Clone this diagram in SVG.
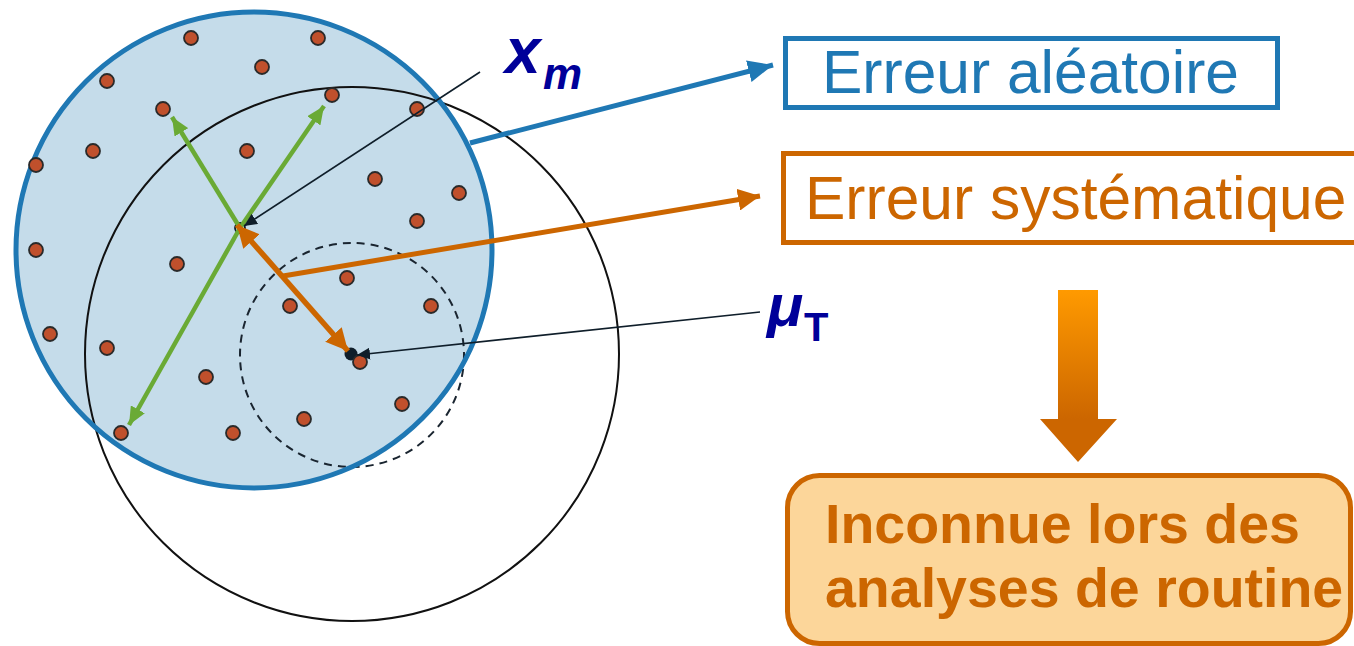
<svg xmlns="http://www.w3.org/2000/svg" width="1354" height="646" viewBox="0 0 1354 646">
<style>
.dot{fill:#c0502c;stroke:#2a2a2a;stroke-width:1.8}
.lbl{font-family:"Liberation Sans",Arial,sans-serif}
.sym{font-family:"Liberation Sans",Arial,sans-serif;font-weight:bold;font-style:italic;fill:#000099}
.green{stroke:#6aaa35;stroke-width:4.5;fill:none}
.thin{stroke:#0f1e2a;stroke-width:1.6;fill:none}
</style>
<defs>
<marker id="ahGreen" markerUnits="userSpaceOnUse" markerWidth="20" markerHeight="16" refX="18" refY="8" orient="auto"><path d="M0,0 L18,8 L0,16 Z" fill="#6aaa35"/></marker>
<marker id="ahOrange" markerUnits="userSpaceOnUse" markerWidth="24" markerHeight="22" refX="22" refY="11" orient="auto-start-reverse"><path d="M0,0 L22,11 L0,22 Z" fill="#cc6600"/></marker>
<marker id="ahBlue" markerUnits="userSpaceOnUse" markerWidth="26" markerHeight="22" refX="25" refY="11" orient="auto"><path d="M0,0 L25,11 L0,22 Z" fill="#1f78b4"/></marker>
<marker id="ahBlack" markerUnits="userSpaceOnUse" markerWidth="14" markerHeight="12" refX="13" refY="6" orient="auto"><path d="M0,0 L13,6 L0,12 Z" fill="#0f1e2a"/></marker>
<linearGradient id="gradDown" gradientUnits="userSpaceOnUse" x1="0" y1="290" x2="0" y2="462">
<stop offset="0" stop-color="#ff9a00"/>
<stop offset="0.75" stop-color="#cc6600"/>
<stop offset="1" stop-color="#cc6600"/>
</linearGradient>
</defs>

<g id="target">
<circle id="blue-fill" cx="254" cy="250" r="238" fill="#c5dcea"/>
<circle id="big-circle" cx="352" cy="354" r="267" fill="none" stroke="#111" stroke-width="2"/>
<circle id="dashed-circle" cx="352" cy="355" r="112" fill="none" stroke="#1a2530" stroke-width="2" stroke-dasharray="8 6"/>
<circle id="blue-ring" cx="254" cy="250" r="238" fill="none" stroke="#1f78b4" stroke-width="5"/>
</g>

<g id="points">
<circle class="dot" cx="191" cy="38" r="7"/>
<circle class="dot" cx="318" cy="38" r="7"/>
<circle class="dot" cx="262" cy="67" r="7"/>
<circle class="dot" cx="107" cy="81" r="7"/>
<circle class="dot" cx="332" cy="95" r="7"/>
<circle class="dot" cx="163" cy="109" r="7"/>
<circle class="dot" cx="417" cy="109" r="7"/>
<circle class="dot" cx="93" cy="151" r="7"/>
<circle class="dot" cx="247" cy="151" r="7"/>
<circle class="dot" cx="36" cy="165" r="7"/>
<circle class="dot" cx="375" cy="179" r="7"/>
<circle class="dot" cx="459" cy="193" r="7"/>
<circle class="dot" cx="417" cy="221" r="7"/>
<circle class="dot" cx="36" cy="250" r="7"/>
<circle class="dot" cx="177" cy="264" r="7"/>
<circle class="dot" cx="347" cy="278" r="7"/>
<circle class="dot" cx="290" cy="306" r="7"/>
<circle class="dot" cx="431" cy="306" r="7"/>
<circle class="dot" cx="50" cy="334" r="7"/>
<circle class="dot" cx="107" cy="348" r="7"/>
<circle class="dot" cx="206" cy="377" r="7"/>
<circle class="dot" cx="402" cy="404" r="7"/>
<circle class="dot" cx="304" cy="419" r="7"/>
<circle class="dot" cx="121" cy="433" r="7"/>
<circle class="dot" cx="233" cy="433" r="7"/>
<circle id="mu-dot" cx="351" cy="354" r="6.5" fill="#0f1e2a"/>
<circle class="dot" cx="360" cy="362" r="7"/>
<circle id="xm-point" cx="240" cy="228" r="5" fill="none" stroke="#0f1e2a" stroke-width="1.8"/>
</g>

<g id="connectors">
<line class="green" x1="240" y1="228" x2="172" y2="117" marker-end="url(#ahGreen)"/>
<line class="green" x1="240" y1="228" x2="324" y2="106" marker-end="url(#ahGreen)"/>
<line class="green" x1="240" y1="228" x2="129" y2="425" marker-end="url(#ahGreen)"/>
<line x1="237" y1="225" x2="348" y2="351" stroke="#cc6600" stroke-width="5.5" marker-start="url(#ahOrange)" marker-end="url(#ahOrange)"/>
<line class="thin" x1="480" y1="72" x2="244" y2="226" marker-end="url(#ahBlack)"/>
<line class="thin" x1="760" y1="312" x2="357" y2="355" marker-end="url(#ahBlack)"/>
<line x1="470" y1="143" x2="773" y2="65" stroke="#1f78b4" stroke-width="5" marker-end="url(#ahBlue)"/>
<line x1="283" y1="276" x2="760" y2="196" stroke="#cc6600" stroke-width="5" marker-end="url(#ahOrange)"/>
<path id="down-arrow" d="M1058,290 H1098 V419 H1117 L1078,462 L1040,419 H1058 Z" fill="url(#gradDown)"/>
</g>

<g id="label-xm">
<text class="sym" x="505" y="73" font-size="64">x</text>
<text class="sym" x="543" y="89" font-size="44">m</text>
</g>

<g id="label-mu">
<text class="sym" x="767" y="326" font-size="60">μ</text>
<text class="lbl" x="804" y="341" font-size="40" font-weight="bold" fill="#000099">T</text>
</g>

<g id="box-aleatoire">
<rect x="785.5" y="38.5" width="492" height="69" fill="#fff" stroke="#1f78b4" stroke-width="5"/>
<text class="lbl" x="822" y="93" font-size="60.5" fill="#1f78b4">Erreur aléatoire</text>
</g>

<g id="box-systematique">
<rect x="783.5" y="153.5" width="600" height="89" fill="#fff" stroke="#cc6600" stroke-width="5"/>
<text class="lbl" x="805" y="219" font-size="60.5" fill="#cc6600">Erreur systématique</text>
</g>

<g id="box-inconnue">
<rect x="787.5" y="475.5" width="563" height="168" rx="32" fill="#fcd69a" stroke="#cc6600" stroke-width="5"/>
<text class="lbl" x="825" y="543" font-size="55.5" font-weight="bold" fill="#cc6600">Inconnue lors des</text>
<text class="lbl" x="825" y="607" font-size="55.5" font-weight="bold" fill="#cc6600">analyses de routine</text>
</g>
</svg>
